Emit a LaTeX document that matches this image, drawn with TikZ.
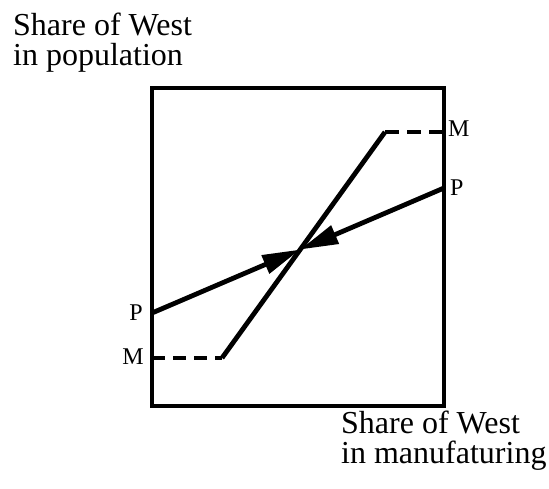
\documentclass[tikz,border=0pt]{standalone}
\usepackage{fontspec}
\setmainfont{Liberation Serif}
\usetikzlibrary{arrows.meta,positioning}

\begin{document}
\begin{tikzpicture}[x=1pt,y=1pt,every node/.style={inner sep=0pt},frame/.style={line width=3.8pt},curve/.style={line width=4.8pt},flat/.style={line width=4.2pt},head/.style={-{Triangle[length=38pt,width=19pt]}},title/.style={font=\fontsize{32}{30}\selectfont,align=left,anchor=north west},tag/.style={font=\fontsize{24}{24}\selectfont}]
\path[use as bounding box] (0,0) rectangle (549,489);

\node[title] (ytitle) at (13,476) {Share of West\\in population};
\node[title] (xtitle) at (341,78) {Share of West\\in manufaturing};
\draw[frame] (152,83) rectangle (444,401);

% end points of the two curves
\coordinate (mlo) at (222,131); \coordinate (mhi) at (385,357);
\coordinate (mleft) at (152,131); \coordinate (mright) at (444,357);
\coordinate (plo) at (152,176); \coordinate (phi) at (444,301);
\coordinate (eq) at (intersection of plo--phi and mlo--mhi);

\draw[curve] (mlo) -- (mhi);
\draw[flat,dash pattern=on 13pt off 8pt] (mleft) -- (mlo);
\draw[flat,dash pattern=on 14pt off 8pt] (mhi) -- (mright);
\draw[curve,head] (plo) -- (eq);
\draw[curve,head] (phi) -- (eq);

\node[tag,anchor=base west] (mr) at (448,352) {M};
\node[tag,anchor=base west] (pr) at (450,293) {P};
\node[tag,anchor=base east] (pl) at (143,168) {P};
\node[tag,anchor=base east] (ml) at (144,124) {M};

\end{tikzpicture}
\end{document}
